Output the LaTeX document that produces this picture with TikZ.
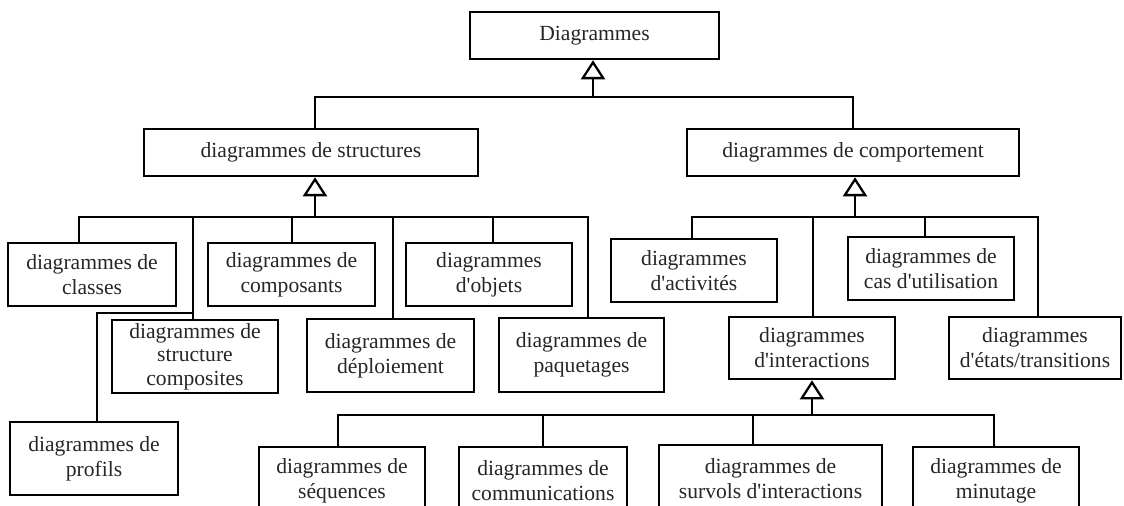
\documentclass[tikz,border=0pt]{standalone}
\usepackage{fontspec}
\setmainfont{Liberation Serif}[Ligatures=TeXOff]
\usetikzlibrary{arrows.meta}
\begin{document}
\begin{tikzpicture}[x=0.75pt,y=-0.75pt,
  box/.style={draw, line width=1.9pt, align=center, inner sep=0pt,
    text=black!85, font=\fontsize{16.2}{18.6}\selectfont},
  bx/.style 2 args={box, minimum width=#1*0.75pt, minimum height=#2*0.75pt},
  link/.style={line width=1.7pt},
  gen/.style={link, -{Triangle[fill=white, length=14.25pt, width=18pt]}}
]
\useasboundingbox (0,0) rectangle (1124,506);
\clip (0,0) rectangle (1124,506);

% root and the two families
\node[bx={249}{47}] (root) at (594.5,35.5) {Diagrammes};
\node[bx={334}{47}] (struct) at (311,152.5) {diagrammes de structures};
\node[bx={332}{47}] (comp) at (853,152.5) {diagrammes de comportement};

% structure diagrams
\node[bx={168}{63}] (classes) at (92,274.5) {diagrammes de\\classes};
\node[bx={167}{63}] (composants) at (291.5,274.5) {diagrammes de\\composants};
\node[bx={166}{63}] (objets) at (489,274.5) {diagrammes\\d'objets};
\node[bx={166}{73}, font=\fontsize{16.2}{17.6}\selectfont] (composite) at (195,356.5) {diagrammes de\\structure\\composites};
\node[bx={167}{73}] (deploi) at (390.5,355.5) {diagrammes de\\déploiement};
\node[bx={165}{74}] (paquet) at (581.5,355) {diagrammes de\\paquetages};
\node[bx={168}{73}] (profils) at (94,458.5) {diagrammes de\\profils};

% behaviour diagrams
\node[bx={166}{63}] (activ) at (694,270.5) {diagrammes\\d'activités};
\node[bx={166}{63}] (cas) at (931,268.5) {diagrammes de\\cas d'utilisation};
\node[bx={166}{62}] (inter) at (812,348) {diagrammes\\d'interactions};
\node[bx={172}{62}] (etats) at (1035,348) {diagrammes\\d'états/transitions};

% interaction diagrams
\node[bx={166}{68}] (seq) at (342,481) {diagrammes de\\séquences};
\node[bx={168}{68}] (commu) at (543,481) {diagrammes de\\communications};
\node[bx={223}{68}] (survol) at (770.5,479) {diagrammes de\\survols d'interactions};
\node[bx={166}{68}] (minut) at (996,481) {diagrammes de\\minutage};

% top level generalisation
\coordinate (b0) at (593,97);
\draw[link] ([xshift=3pt]struct.north) |- (b0) -| (comp.north);
\draw[gen] (b0) -- (b0 |- root.south);

% structure bus
\coordinate (sb) at (315,217);
\coordinate (s1) at (79,217);
\coordinate (s2) at (193,217);
\coordinate (s3) at (292,217);
\coordinate (s4) at (393,217);
\coordinate (s5) at (493,217);
\coordinate (s6) at (588,217);
\coordinate (s2b) at (193,313);
\coordinate (pf) at (97,313);
\draw[gen] (sb) -- (sb |- struct.south);
\draw[link] (classes.north -| s1) -- (s1) -- (s6) -- (paquet.north -| s6);
\draw[link] (composants.north -| s3) -- (s3);
\draw[link] (objets.north -| s5) -- (s5);
\draw[link] (deploi.north -| s4) -- (s4);
\draw[link] (composite.north -| s2) -- (s2);
\draw[link] (s2b) -- (pf) -- (profils.north -| pf);

% behaviour bus
\coordinate (cb) at (855,217);
\coordinate (c1) at (692,217);
\coordinate (c2) at (813,217);
\coordinate (c3) at (925,217);
\coordinate (c4) at (1038,217);
\draw[gen] (cb) -- (cb |- comp.south);
\draw[link] (activ.north -| c1) -- (c1) -- (c4) -- (etats.north -| c4);
\draw[link] (inter.north -| c2) -- (c2);
\draw[link] (cas.north -| c3) -- (c3);

% interaction bus
\coordinate (ib) at (812,415);
\coordinate (i1) at (338,415);
\coordinate (i2) at (543,415);
\coordinate (i3) at (753,415);
\coordinate (i4) at (994,415);
\draw[gen] (ib) -- (ib |- inter.south);
\draw[link] (seq.north -| i1) -- (i1) -- (i4) -- (minut.north -| i4);
\draw[link] (commu.north -| i2) -- (i2);
\draw[link] (survol.north -| i3) -- (i3);
\end{tikzpicture}
\end{document}
